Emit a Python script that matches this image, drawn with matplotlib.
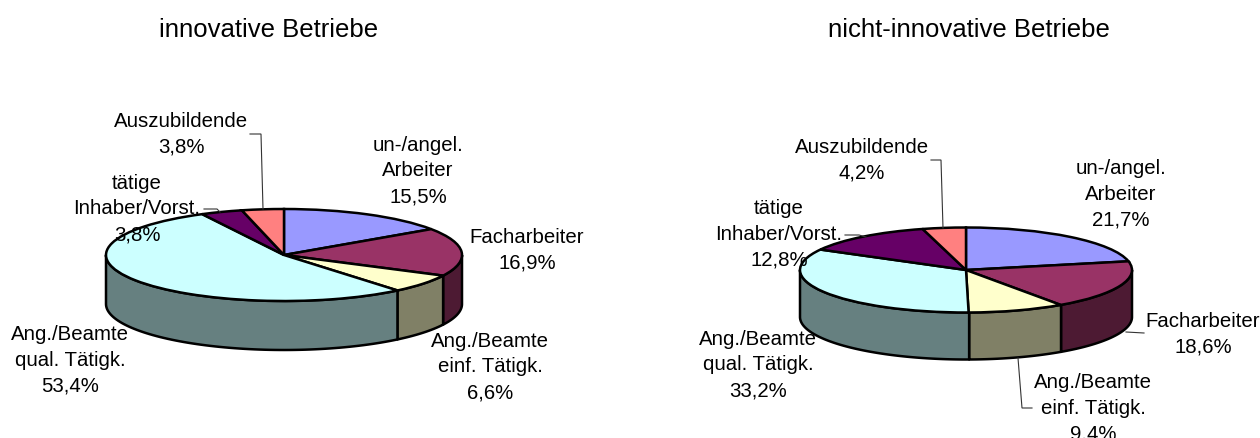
#!/usr/bin/python

import numpy as np
import matplotlib
matplotlib.use("Agg")
import matplotlib.pyplot as plt

## Data

names = ["un-/angel.\nArbeiter", "Facharbeiter", "Ang./Beamte\neinf. Tätigk.",
         "Ang./Beamte\nqual. Tätigk.", "tätige\nInhaber/Vorst.", "Auszubildende"]
innovative = [15.5, 16.9, 6.6, 53.4, 3.8, 3.8]
nicht_innovative = [21.7, 18.6, 9.4, 33.2, 12.8, 4.2]

colors = ["#9999FF", "#993366", "#FFFFCC", "#CCFFFF", "#660066", "#FF8080"]
side_colors = ["#4D4D80", "#4D1A33", "#808066", "#668080", "#330033", "#804040"]

W, H = 1260, 438
plt.rcParams["font.family"] = ["Liberation Sans", "DejaVu Sans"]

fig = plt.figure(figsize=(W / 100, H / 100), dpi=100)
page = fig.add_axes([0, 0, 1, 1], zorder=3)
page.set_xlim(0, W)
page.set_ylim(H, 0)
page.axis("off")


def draw_pie(values, cx, cy, rx, ry, depth):
    # axes placed in pixels so the unit circle becomes the flat ellipse
    d = depth / ry
    x0, x1 = cx - 1.1 * rx, cx + 1.1 * rx
    y0, y1 = cy - 1.1 * ry, cy + depth + 1.1 * ry
    ax = fig.add_axes([x0 / W, 1 - y1 / H, (x1 - x0) / W, (y1 - y0) / H], zorder=1)

    # side wall, only the front half (90..270 deg clockwise from top) is seen
    edges = np.cumsum([0] + values) * 3.6
    for i in range(len(values)):
        a, b = max(edges[i], 90), min(edges[i + 1], 270)
        if b <= a:
            continue
        t = np.radians(np.linspace(a, b, 80))
        xs = np.sin(t)
        ys = np.cos(t)
        ax.fill(np.r_[xs, xs[::-1]], np.r_[ys, ys[::-1] - d],
                facecolor=side_colors[i], edgecolor="black", lw=1.8, joinstyle="round")

    ax.pie(values, colors=colors, startangle=90, counterclock=False, radius=1,
           wedgeprops={"edgecolor": "black", "linewidth": 1.8})
    ax.set_aspect("auto")
    ax.set_xlim(-1.1, 1.1)
    ax.set_ylim(-1.1 - d, 1.1)
    ax.axis("off")


def put_labels(values, spots):
    for name, v, (x, y) in zip(names, values, spots):
        txt = name + "\n" + f"{v:.1f}".replace(".", ",") + "%"
        page.text(x, y, txt, ha="center", va="center", fontsize=14.7,
                  linespacing=1.45, color="black")


def leader(xs, ys):
    page.plot(xs, ys, color="#333333", lw=0.8, solid_joinstyle="miter")


draw_pie(innovative, 284, 255, 178, 46, 49)
draw_pie(nicht_innovative, 966, 270, 166, 42.5, 47)

put_labels(innovative, [(418, 171), (527, 250), (490, 367), (70, 360), (137, 209), (181, 134)])
put_labels(nicht_innovative, [(1121, 194), (1203, 334), (1093, 408), (758, 365), (779, 234), (862, 160)])

leader([250, 261, 263], [134, 134, 209])
leader([204, 217, 220], [209, 209, 212])
leader([931, 941, 943], [160, 160, 228])
leader([845, 859, 866], [235, 235, 237])
leader([1144, 1126], [333, 332])
leader([1032, 1022, 1018], [408, 408, 358])

page.text(269, 30, "innovative Betriebe", ha="center", va="center", fontsize=18.5)
page.text(969, 30, "nicht-innovative Betriebe", ha="center", va="center", fontsize=18.5)

fig.savefig("out.png", dpi=100)
